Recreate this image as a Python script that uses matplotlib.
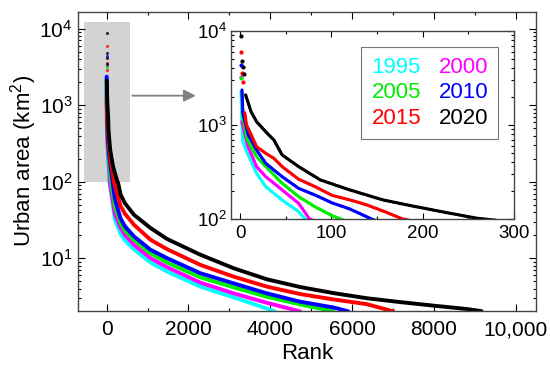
import matplotlib
matplotlib.use("Agg")
import matplotlib.pyplot as plt
from matplotlib.patches import Rectangle
from matplotlib.lines import Line2D
from matplotlib.ticker import FixedLocator, MultipleLocator, LogLocator, NullFormatter, FuncFormatter
import numpy as np

plt.rcParams['font.family'] = ['Liberation Sans', 'DejaVu Sans']
plt.rcParams['mathtext.fontset'] = 'custom'
plt.rcParams['mathtext.rm'] = 'Liberation Sans'
plt.rcParams['mathtext.it'] = 'Liberation Sans:italic'
plt.rcParams['mathtext.bf'] = 'Liberation Sans:bold'

# ---- data ----
years = ['1995', '2000', '2005', '2010', '2015', '2020']
colors = ['#00FFFF', '#FF00FF', '#00EE00', '#0000FF', '#FF0000', '#000000']

ranks_1995 = [1, 2, 3, 8, 18, 28, 46, 64, 71, 200, 341, 450, 667, 1073, 1480, 2293, 3106, 3919, 4100]
area_1995 = [2260, 1050, 665, 500, 306, 221, 159, 120, 100, 32, 21, 17, 13.1, 8.77, 6.68, 4.25, 3.08, 2.2, 2.02]

ranks_2000 = [1, 2, 8, 18, 28, 46, 64, 76, 200, 341, 450, 667, 1073, 1480, 2293, 3106, 3919, 4730]
area_2000 = [3265, 1085, 612, 361, 282, 204, 147, 100, 38, 25, 20, 15, 10, 7.62, 4.79, 3.47, 2.61, 2.02]

ranks_2005 = [1, 2, 3, 8, 18, 28, 46, 64, 82, 101, 110, 200, 341, 450, 667, 1073, 1480, 2293, 3106, 3919, 4732, 5550]
area_2005 = [3140, 2175, 1200, 692, 460, 361, 240, 173, 135, 108, 100, 48, 29, 23, 17.4, 11.6, 8.77, 5.62, 4.16, 3.13, 2.49, 2.02]

ranks_2010 = [1, 2, 3, 9, 18, 28, 46, 64, 82, 101, 120, 144, 200, 341, 450, 667, 1073, 1480, 2293, 3106, 3919, 4732, 5545, 5910]
area_2010 = [4350, 2355, 1330, 783, 542, 391, 282, 212, 180, 148, 128, 100, 60, 33, 26, 19.3, 12.9, 10, 6.36, 4.69, 3.47, 2.7, 2.27, 2.02]

ranks_2015 = [1, 2, 3, 5, 7, 13, 18, 28, 37, 46, 64, 82, 101, 120, 139, 160, 178, 341, 450, 667, 1073, 1480, 2293, 3106, 3919, 4732, 5545, 6358, 7010]
area_2015 = [5930, 3600, 2900, 1350, 1000, 752, 588, 500, 442, 361, 265, 221, 178, 160, 141, 118, 100, 48, 38, 27.4, 17.4, 13.1, 8.17, 5.74, 4.25, 3.4, 2.89, 2.51, 2.02]

ranks_2020 = [1, 2, 3, 4, 6, 9, 12, 18, 28, 37, 46, 64, 88, 120, 157, 193, 230, 259, 280, 341, 450, 667, 1073, 1480, 2293, 3106, 3919, 4732, 5545, 6358, 7171, 7984, 8797, 9170]
area_2020 = [8850, 4800, 4170, 3460, 2090, 1700, 1385, 1085, 849, 692, 480, 361, 260, 204, 159, 135, 115, 102, 97, 68, 52, 37, 24.8, 17.8, 11.1, 7.39, 5.3, 4.2, 3.5, 3.0, 2.67, 2.4, 2.17, 2.03]

series = [(ranks_1995, area_1995), (ranks_2000, area_2000), (ranks_2005, area_2005),
          (ranks_2010, area_2010), (ranks_2015, area_2015), (ranks_2020, area_2020)]

main_xticks = [0, 2000, 4000, 6000, 8000, 10000]
main_xticklabels = ['0', '2000', '4000', '6000', '8000', '10,000']
inset_xticks = [0, 100, 200, 300]

fig = plt.figure(figsize=(5.5, 3.71), dpi=100)
ax = fig.add_axes([0.1418, 0.163, 0.9745 - 0.1418, 0.9677 - 0.163])

ax.add_patch(Rectangle((-560, 100), 1120, 12200, facecolor='#d3d3d3', edgecolor='none', zorder=0))

for (r, a), c in zip(series, colors):
    r = np.array(r); a = np.array(a)
    m = a <= 2500
    ax.plot(r[m], a[m], '-', color=c, lw=2.8, solid_capstyle='round', solid_joinstyle='round', zorder=2)
    ax.plot(r[~m], a[~m], 'o', color=c, ms=2.2, mec='none', alpha=0.8, zorder=2)

ax.set_yscale('log')
ax.set_xlim(-700, 10500)
ax.set_ylim(2.07, 16500)
ax.set_xticks(main_xticks)
ax.set_xticklabels(main_xticklabels)
ax.xaxis.set_minor_locator(MultipleLocator(1000))
ax.yaxis.set_major_locator(FixedLocator([10, 100, 1000, 10000]))
ax.yaxis.set_major_formatter(FuncFormatter(lambda v, p: r'$10^{%d}$' % round(np.log10(v))))
ax.yaxis.set_minor_locator(LogLocator(base=10, subs=np.arange(2, 10), numticks=20))
ax.yaxis.set_minor_formatter(NullFormatter())
ax.tick_params(which='both', direction='in', top=True, right=True, labelsize=15, width=0.8)
ax.tick_params(which='major', length=5)
ax.tick_params(which='minor', length=2.5)
ax.tick_params(axis='x', which='major', pad=7)
ax.tick_params(axis='y', which='major', pad=4)
for s in ax.spines.values():
    s.set_linewidth(1.0)
    s.set_color('#444444')
ax.set_xlabel('Rank', fontsize=16, labelpad=3)
ax.set_ylabel('Urban area (km$^2$)', fontsize=16, labelpad=0)

ax.annotate('', xy=(2250, 1330), xytext=(560, 1330),
            arrowprops=dict(arrowstyle='-|>', color='#808080', lw=1.3, mutation_scale=18))

# ---- inset ----
axi = fig.add_axes([231 / 550, 1 - 219 / 371, (514 - 231) / 550, (219 - 31) / 371])
for (r, a), c in zip(series, colors):
    r = np.array(r); a = np.array(a)
    m = a <= 2500
    axi.plot(r[m], a[m], linestyle=(0, (0.9, 0.5)), color=c, lw=2.3, dash_capstyle='round', zorder=2)
    axi.plot(r[~m], a[~m], 'o', color=c, ms=3, mec='none', zorder=2)
axi.set_yscale('log')
axi.set_xlim(-10, 300)
axi.set_ylim(100, 10000)
axi.set_xticks(inset_xticks)
axi.xaxis.set_minor_locator(MultipleLocator(50))
axi.yaxis.set_major_locator(FixedLocator([100, 1000, 10000]))
axi.yaxis.set_major_formatter(FuncFormatter(lambda v, p: r'$10^{%d}$' % round(np.log10(v))))
axi.yaxis.set_minor_locator(LogLocator(base=10, subs=np.arange(2, 10), numticks=20))
axi.yaxis.set_minor_formatter(NullFormatter())
axi.tick_params(which='both', direction='in', top=True, right=True, labelsize=13.5, width=0.8)
axi.tick_params(which='major', length=4)
axi.tick_params(which='minor', length=2)
axi.tick_params(axis='y', pad=3)
axi.tick_params(axis='x', pad=4)
for s in axi.spines.values():
    s.set_linewidth(1.0)
    s.set_color('#444444')

order = [0, 2, 4, 1, 3, 5]
handles = [Line2D([], [], linestyle='none') for _ in order]
labels = [years[i] for i in order]
leg = axi.legend(handles, labels, ncol=2, loc='upper right', bbox_to_anchor=(0.945, 0.915),
                 handlelength=0, handletextpad=0, columnspacing=0.8, labelspacing=0.2,
                 fontsize=16, frameon=True, fancybox=False, edgecolor='#555555',
                 borderpad=0.45, borderaxespad=0)
leg.get_frame().set_linewidth(0.8)
for t, i in zip(leg.get_texts(), order):
    t.set_color(colors[i])

fig.savefig('out.png', dpi=100)
